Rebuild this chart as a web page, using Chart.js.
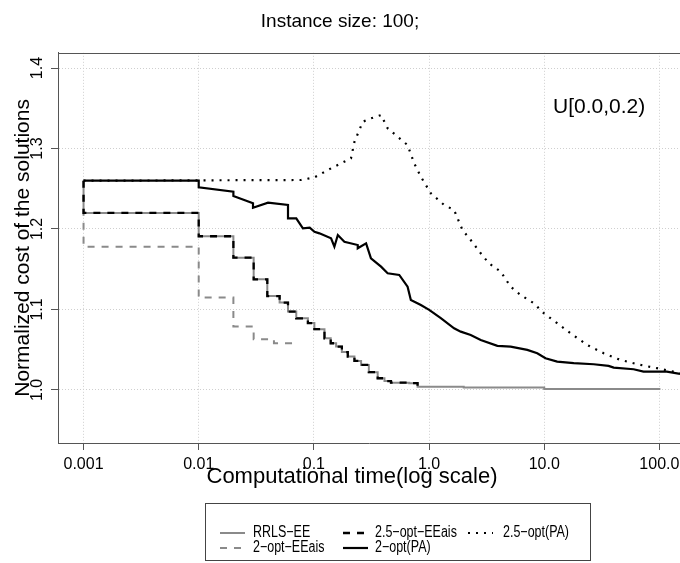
<!DOCTYPE html>
<html>
<head>
<meta charset="utf-8">
<title>Instance size: 100</title>
<script src="https://cdn.jsdelivr.net/npm/chart.js@4.4.1/dist/chart.umd.min.js"></script>
<style>
  html, body { margin: 0; padding: 0; background: #fff; }
  canvas { display: block; }
</style>
</head>
<body>
<canvas id="myChart" width="680" height="563"></canvas>
<script>
// tick values and their printed labels
const xTicks = [0.001, 0.01, 0.1, 1, 10, 100];
const xTickLabels = ['0.001', '0.01', '0.1', '1.0', '10.0', '100.0'];
const yTicks = [1.0, 1.1, 1.2, 1.3, 1.4];
const yTickLabels = ['1.0', '1.1', '1.2', '1.3', '1.4'];

const seriesNames = ['RRLS\u2212EE', '2\u2212opt\u2212EEais', '2.5\u2212opt\u2212EEais', '2\u2212opt(PA)', '2.5\u2212opt(PA)'];

// time (s) / normalized cost
const rrls_time = [0.001, 0.001, 0.01, 0.02, 0.03, 0.0394, 0.0504, 0.0596, 0.0703, 0.0887,
  0.101, 0.1236, 0.14, 0.156, 0.175, 0.197, 0.225, 0.257, 0.3, 0.358,
  0.41, 0.467, 0.673, 0.795, 2, 10, 100];
const rrls_cost = [1.26, 1.22, 1.191, 1.1643, 1.1375, 1.1166, 1.1085, 1.0973, 1.089, 1.083,
  1.0755, 1.0642, 1.058, 1.0538, 1.047, 1.0414, 1.036, 1.031, 1.022, 1.0145,
  1.011, 1.009, 1.0083, 1.004, 1.003, 1.001, 1.0];

const opt2ee_time = [0.001, 0.001, 0.01, 0.02, 0.03, 0.045, 0.066];
const opt2ee_cost = [1.26, 1.178, 1.1147, 1.0787, 1.063, 1.058, 1.055];

const opt25ee_time = [0.001, 0.001, 0.01, 0.02, 0.03, 0.0394, 0.0504, 0.0596, 0.0703, 0.0887,
  0.101, 0.1236, 0.14, 0.156, 0.175, 0.197, 0.225, 0.257, 0.3, 0.358,
  0.41, 0.467, 0.673, 0.795];
const opt25ee_cost = [1.26, 1.22, 1.191, 1.1643, 1.1375, 1.1166, 1.1085, 1.0973, 1.089, 1.083,
  1.0755, 1.0642, 1.058, 1.0538, 1.047, 1.0414, 1.036, 1.031, 1.022, 1.0145,
  1.011, 1.009, 1.0083, 1.004];

const opt2pa_time = [0.001, 0.01, 0.01, 0.02, 0.02, 0.0296, 0.0296, 0.04, 0.0596, 0.0596,
  0.0703, 0.0803, 0.092, 0.1012, 0.1117, 0.141, 0.1507, 0.1614, 0.184, 0.2404,
  0.2404, 0.284, 0.313, 0.383, 0.437, 0.551, 0.651, 0.695, 0.849, 1.002,
  1.265, 1.65, 1.885, 2.3, 2.81, 3.92, 5.11, 7.13, 8.7, 10.26,
  12.96, 18.05, 26.9, 36.2, 40.1, 59.7, 72.8, 116, 151];
const opt2pa_cost = [1.26, 1.26, 1.2518, 1.2464, 1.241, 1.232, 1.2265, 1.2327, 1.2298, 1.2133,
  1.2133, 1.2009, 1.2016, 1.1966, 1.1946, 1.1884, 1.178, 1.1925, 1.1842, 1.1801,
  1.176, 1.1822, 1.1636, 1.1532, 1.145, 1.1429, 1.1283, 1.1118, 1.1056, 1.0994,
  1.0891, 1.0766, 1.0724, 1.0683, 1.0621, 1.0547, 1.0538, 1.0497, 1.0456, 1.0394,
  1.0352, 1.0332, 1.0319, 1.0298, 1.0277, 1.0257, 1.0227, 1.0227, 1.0199];

const opt25pa_time = [0.001, 0.0776, 0.101, 0.141, 0.21, 0.225, 0.266, 0.313, 0.383, 0.437,
  0.534, 0.651, 0.743, 0.849, 1.037, 1.353, 1.65, 1.95, 2.3, 2.81,
  3.31, 4.19, 5.11, 6.23, 8.13, 9.91, 12.96, 16.9, 23.6, 32.8,
  45.8, 68.2, 95.1, 132, 151];
const opt25pa_cost = [1.26, 1.2609, 1.2642, 1.2754, 1.2878, 1.3084, 1.3333, 1.3375, 1.3416, 1.3251,
  1.3147, 1.3043, 1.2816, 1.265, 1.2443, 1.2298, 1.2236, 1.1988, 1.1863, 1.1698,
  1.1574, 1.147, 1.1283, 1.118, 1.1077, 1.0953, 1.0829, 1.0704, 1.0559, 1.0456,
  1.0373, 1.0311, 1.027, 1.0227, 1.0207];

function pts(t, v) {
  return t.map((x, i) => ({ x: x, y: v[i] }));
}

const FONT = '"Liberation Sans", Arial, Helvetica, sans-serif';
Chart.defaults.font.family = FONT;
Chart.defaults.color = '#000';

// legend slots (column, row) like the R legend with 3 columns
const legendCols = [220, 343, 468];
const legendTextX = [253, 375, 503];
const legendRows = [533, 548];
const legendSlots = [[0, 0], [0, 1], [1, 0], [1, 1], [2, 0]];

const extras = {
    id: 'extras',
    afterDraw(chart) {
        const ctx = chart.ctx;
        const a = chart.chartArea;
        ctx.save();

        // top side of the box
        ctx.strokeStyle = '#555';
        ctx.lineWidth = 1;
        ctx.beginPath();
        ctx.moveTo(a.left, Math.round(a.top) + 0.5);
        ctx.lineTo(a.right, Math.round(a.top) + 0.5);
        ctx.stroke();

        ctx.fillStyle = '#000';
        ctx.font = '22px ' + FONT;
        ctx.textAlign = 'center';
        ctx.textBaseline = 'alphabetic';
        ctx.fillText('Computational time(log scale)', 352, 483);

        ctx.font = '21px ' + FONT;
        ctx.textAlign = 'left';
        ctx.fillText('U[0.0,0.2)', 553, 113);

        // legend
        ctx.strokeStyle = '#444';
        ctx.lineWidth = 1;
        ctx.strokeRect(205.5, 503.5, 385, 57);
        chart.data.datasets.forEach((ds, i) => {
            const [c, r] = legendSlots[i];
            const y = legendRows[r];
            ctx.save();
            ctx.strokeStyle = ds.borderColor;
            ctx.lineWidth = ds.borderWidth;
            ctx.setLineDash(ds.borderDash || []);
            ctx.beginPath();
            ctx.moveTo(legendCols[c], y);
            ctx.lineTo(legendCols[c] + 25, y);
            ctx.stroke();
            ctx.restore();

            ctx.save();
            ctx.translate(legendTextX[c], y);
            ctx.scale(0.78, 1);
            ctx.font = '16px ' + FONT;
            ctx.fillStyle = '#000';
            ctx.textAlign = 'left';
            ctx.textBaseline = 'middle';
            ctx.fillText(ds.label, 0, 0);
            ctx.restore();
        });

        ctx.restore();
    }
};

let ctx1 = document.getElementById('myChart').getContext('2d');
let myChart = new Chart(ctx1, {
    type: 'line',
    data: {
        datasets: [{
            label: seriesNames[0],
            data: pts(rrls_time, rrls_cost),
            borderColor: '#8a8a8a',
            borderWidth: 2,
            stepped: true,
            order: 5
        }, {
            label: seriesNames[1],
            data: pts(opt2ee_time, opt2ee_cost),
            borderColor: '#8a8a8a',
            borderWidth: 2,
            borderDash: [7, 7],
            stepped: true,
            order: 4
        }, {
            label: seriesNames[2],
            data: pts(opt25ee_time, opt25ee_cost),
            borderColor: '#000',
            borderWidth: 2.3,
            borderDash: [7, 7],
            stepped: true,
            order: 3
        }, {
            label: seriesNames[3],
            data: pts(opt2pa_time, opt2pa_cost),
            borderColor: '#000',
            borderWidth: 2.2,
            order: 2
        }, {
            label: seriesNames[4],
            data: pts(opt25pa_time, opt25pa_cost),
            borderColor: '#000',
            borderWidth: 2.2,
            borderDash: [2, 6],
            order: 1
        }]
    },
    options: {
        responsive: false,
        animation: false,
        devicePixelRatio: 1,
        elements: {
            point: { radius: 0 },
            line: { tension: 0, fill: false }
        },
        layout: { padding: 0 },
        plugins: {
            legend: { display: false },
            tooltip: { enabled: false },
            title: {
                display: true,
                text: 'Instance size: 100;',
                color: '#000',
                font: { size: 19, weight: 'normal' },
                padding: { top: 10, bottom: 20 }
            }
        },
        scales: {
            x: {
                type: 'logarithmic',
                min: 0.000623,
                max: 151,
                afterBuildTicks: scale => {
                    scale.ticks = xTicks.map(v => ({ value: v }));
                },
                afterFit: scale => {
                    scale.height = 120;
                    scale.paddingLeft = 0;
                    scale.paddingRight = 0;
                },
                ticks: {
                    autoSkip: false,
                    maxRotation: 0,
                    padding: 5,
                    font: { size: 16 },
                    color: '#000',
                    callback: (value, index) => xTickLabels[index]
                },
                grid: {
                    color: '#cfcfcf',
                    tickColor: '#555',
                    tickLength: 7
                },
                border: { color: '#555', dash: [1, 2] }
            },
            y: {
                min: 0.934,
                max: 1.419,
                afterBuildTicks: scale => {
                    scale.ticks = yTicks.map(v => ({ value: v }));
                },
                afterFit: scale => {
                    scale.width = 58;
                    scale.paddingTop = 0;
                    scale.paddingBottom = 0;
                },
                ticks: {
                    minRotation: 90,
                    maxRotation: 90,
                    crossAlign: 'center',
                    padding: 2,
                    font: { size: 16 },
                    color: '#000',
                    callback: (value, index) => yTickLabels[index]
                },
                grid: {
                    color: '#cfcfcf',
                    tickColor: '#555',
                    tickLength: 7
                },
                border: { color: '#555', dash: [1, 2] },
                title: {
                    display: true,
                    text: 'Normalized cost of the solutions',
                    color: '#000',
                    font: { size: 21 },
                    padding: { top: 11, bottom: 0 }
                }
            }
        }
    },
    plugins: [extras]
});
</script>
</body>
</html>
